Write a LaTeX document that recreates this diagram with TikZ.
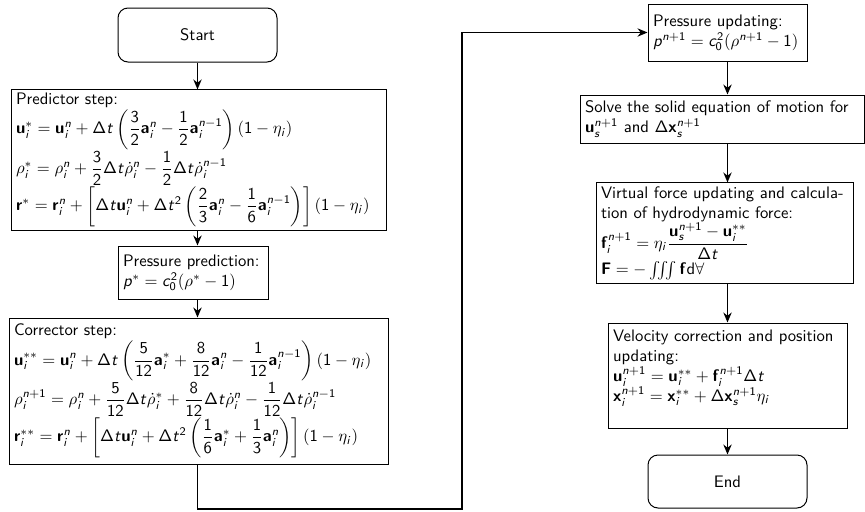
\documentclass[tikz,border=0pt]{standalone}
\usepackage{amsmath,amssymb}
\usepackage{tikz}
\usetikzlibrary{arrows.meta}
% sans serif math letters, digits and bold vectors
\DeclareSymbolFont{sfletters}{OT1}{cmss}{m}{sl}
\DeclareSymbolFont{sfupright}{OT1}{cmss}{m}{n}
\DeclareSymbolFontAlphabet{\mathrm}{sfupright}
\DeclareMathAlphabet{\mathbf}{OT1}{cmss}{bx}{n}
\DeclareMathSymbol{c}{\mathalpha}{sfletters}{`c}
\DeclareMathSymbol{i}{\mathalpha}{sfletters}{`i}
\DeclareMathSymbol{n}{\mathalpha}{sfletters}{`n}
\DeclareMathSymbol{p}{\mathalpha}{sfletters}{`p}
\DeclareMathSymbol{s}{\mathalpha}{sfletters}{`s}
\DeclareMathSymbol{t}{\mathalpha}{sfletters}{`t}
\DeclareMathSymbol{0}{\mathalpha}{sfupright}{`0}
\DeclareMathSymbol{1}{\mathalpha}{sfupright}{`1}
\DeclareMathSymbol{2}{\mathalpha}{sfupright}{`2}
\DeclareMathSymbol{3}{\mathalpha}{sfupright}{`3}
\DeclareMathSymbol{5}{\mathalpha}{sfupright}{`5}
\DeclareMathSymbol{6}{\mathalpha}{sfupright}{`6}
\DeclareMathSymbol{8}{\mathalpha}{sfupright}{`8}
\DeclareMathSymbol{\Delta}{\mathalpha}{sfupright}{"01}
\tikzset{
  flowarrow/.style={-{Stealth[length=6pt,width=5pt]}, line width=1pt},
  procbox/.style={draw, semithick, rectangle, align=left, inner xsep=3pt, inner ysep=2pt},
  termbox/.style={draw, semithick, rectangle, rounded corners=6pt, align=center}
}

\begin{document}
\begin{tikzpicture}[x=0.6pt, y=-0.6pt, font=\sffamily]
  \useasboundingbox (0,0) rectangle (865,511);
  % left column
  \node[termbox, minimum width=95.4pt, minimum height=32.4pt] (start) at (197.5,35) {Start};
  \node[procbox, text width=219pt, minimum height=80.4pt] (pred) at (198.5,160) {Predictor step:\\
    $\mathbf{u}_i^* = \mathbf{u}_i^n + \Delta t\left(\dfrac{3}{2}\mathbf{a}_i^n - \dfrac{1}{2}\mathbf{a}_i^{n-1}\right)(1-\eta_i)$\\
    $\rho_i^* = \rho_i^n + \dfrac{3}{2}\Delta t\dot{\rho}_i^n - \dfrac{1}{2}\Delta t\dot{\rho}_i^{n-1}$\\
    $\mathbf{r}^* = \mathbf{r}_i^n + \left[\Delta t\mathbf{u}_i^n + \Delta t^2\left(\dfrac{2}{3}\mathbf{a}_i^n - \dfrac{1}{6}\mathbf{a}_i^{n-1}\right)\right](1-\eta_i)$};
  \node[procbox, text width=84pt, minimum height=31.8pt] (ppred) at (193,272.5) {Pressure prediction:\\
    $p^* = c_0^2(\rho^* - 1)$};
  \node[procbox, text width=221.4pt, minimum height=87.6pt] (corr) at (198.5,391) {Corrector step:\\
    $\mathbf{u}_i^{**} = \mathbf{u}_i^n + \Delta t\left(\dfrac{5}{12}\mathbf{a}_i^* + \dfrac{8}{12}\mathbf{a}_i^n - \dfrac{1}{12}\mathbf{a}_i^{n-1}\right)(1-\eta_i)$\\
    $\rho_i^{n+1} = \rho_i^n + \dfrac{5}{12}\Delta t\dot{\rho}_i^* + \dfrac{8}{12}\Delta t\dot{\rho}_i^n - \dfrac{1}{12}\Delta t\dot{\rho}_i^{n-1}$\\
    $\mathbf{r}_i^{**} = \mathbf{r}_i^n + \left[\Delta t\mathbf{u}_i^n + \Delta t^2\left(\dfrac{1}{6}\mathbf{a}_i^* + \dfrac{1}{3}\mathbf{a}_i^n\right)\right](1-\eta_i)$};
  % right column
  \node[procbox, text width=89.4pt, minimum height=34.2pt] (pupd) at (727.5,32.5) {Pressure updating:\\
    $p^{n+1} = c_0^2(\rho^{n+1} - 1)$};
  \node[procbox, text width=164.4pt, minimum height=28.8pt] (solve) at (722,119) {Solve the solid equation of motion for\\
    $\mathbf{u}_s^{n+1}$ and $\Delta\mathbf{x}_s^{n+1}$};
  \node[procbox, text width=148.2pt, minimum height=60pt] (virt) at (724.5,233) {Virtual force updating and calcula-\\
    tion of hydrodynamic force:\\
    $\mathbf{f}_i^{n+1} = \eta_i\dfrac{\mathbf{u}_s^{n+1} - \mathbf{u}_i^{**}}{\Delta t}$\\
    $\mathbf{F} = -\iiint \mathbf{f}\mathrm{d}\forall$};
  \node[procbox, text width=137.4pt, minimum height=63pt] (vel) at (727.5,375.5) {Velocity correction and position\\
    updating:\\
    $\mathbf{u}_i^{n+1} = \mathbf{u}_i^{**} + \mathbf{f}_i^{n+1}\Delta t$\\
    $\mathbf{x}_i^{n+1} = \mathbf{x}_i^{**} + \Delta\mathbf{x}_s^{n+1}\eta_i$\\
    \mbox{}};
  \node[termbox, minimum width=95.4pt, minimum height=31.8pt] (end) at (727.5,481.5) {End};
  \coordinate (bend) at (462,509);
  % arrows
  \draw[flowarrow] (start) -- (start |- pred.north);
  \draw[flowarrow] (start |- pred.south) -- (start |- ppred.north);
  \draw[flowarrow] (start |- ppred.south) -- (start |- corr.north);
  \draw[flowarrow] (start |- corr.south) |- (bend) |- (pupd.west);
  \draw[flowarrow] (pupd) -- (pupd |- solve.north);
  \draw[flowarrow] (pupd |- solve.south) -- (pupd |- virt.north);
  \draw[flowarrow] (pupd |- virt.south) -- (vel.north);
  \draw[flowarrow] (vel) -- (end);
\end{tikzpicture}
\end{document}
